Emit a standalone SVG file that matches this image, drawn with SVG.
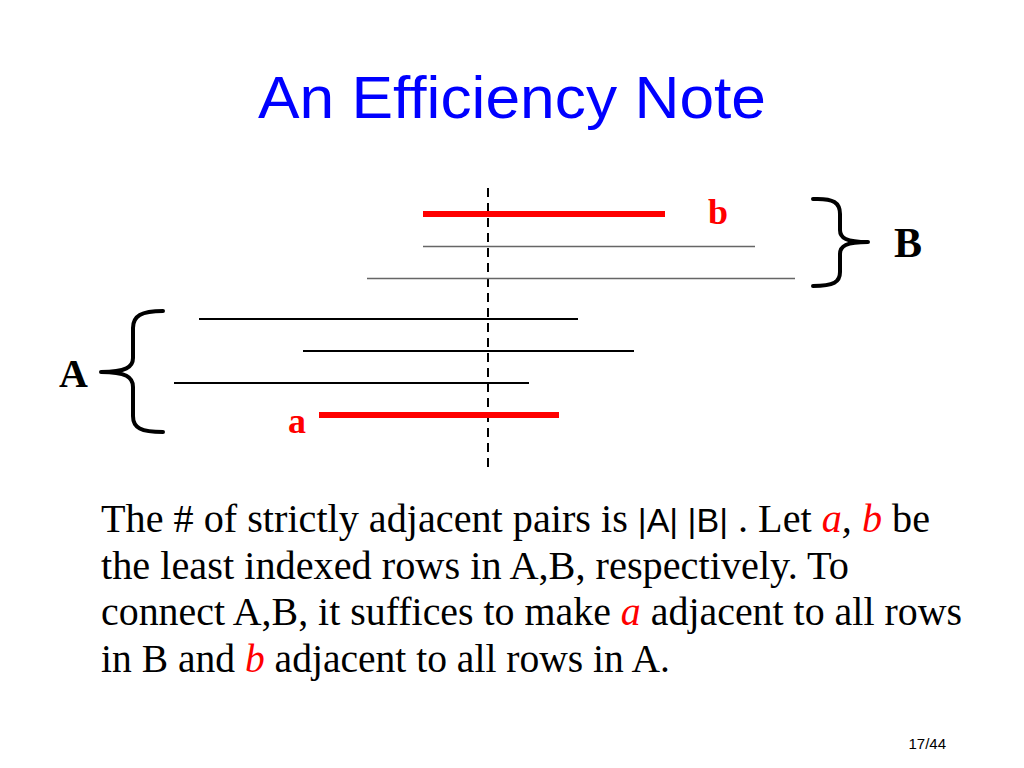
<svg xmlns="http://www.w3.org/2000/svg" width="1024" height="768" viewBox="0 0 1024 768">
<style>
.title{font-family:"Liberation Sans",Arial,sans-serif;font-size:60px;fill:#0000FF}
.body{font-family:"Liberation Serif","Times New Roman",serif;font-size:39px;fill:#000}
.lbl{font-family:"Liberation Serif","Times New Roman",serif;font-weight:bold}
.red{fill:#FF0000}
.it{font-style:italic}
.bar{font-family:"Liberation Sans",Arial,sans-serif;font-size:33px}
.brace{fill:none;stroke:#000;stroke-width:4;stroke-linecap:round;stroke-linejoin:round}
.row{stroke:#000;stroke-width:2.2}
.grey{stroke:#666;stroke-width:1.4}
.redrow{stroke:#FF0000;stroke-width:6}
.pg{font-family:"Liberation Sans",Arial,sans-serif;font-size:15px;fill:#000}
</style>
<rect width="1024" height="768" fill="#fff"/>
<g id="title">
<text class="title" x="258" y="118" textLength="508" lengthAdjust="spacingAndGlyphs">An Efficiency Note</text>
</g>
<g id="connectors">
<line x1="488" y1="188" x2="488" y2="472" stroke="#000" stroke-width="2" stroke-dasharray="9,6"/>
</g>
<g id="setB">
<line class="redrow" x1="423" y1="214" x2="665" y2="214"/>
<line class="grey" x1="423" y1="246.5" x2="755" y2="246.5"/>
<line class="grey" x1="367" y1="278.5" x2="795" y2="278.5"/>
<text class="lbl red" x="708" y="224" font-size="36">b</text>
<path class="brace" d="M813,199 C834,198 840,203 840,214 L840,230 C840,238 846,242 868,242 C846,242 840,246 840,254 L840,272 C840,282 834,286 813,286"/>
<text class="lbl" x="894" y="257" font-size="42">B</text>
</g>
<g id="setA">
<line class="row" x1="199" y1="319" x2="578" y2="319"/>
<line class="row" x1="303" y1="351" x2="634" y2="351"/>
<line class="row" x1="174" y1="383" x2="529" y2="383"/>
<line class="redrow" x1="319" y1="415" x2="559" y2="415"/>
<text class="lbl red" x="288" y="433" font-size="36">a</text>
<path class="brace" d="M163,311 C141,311 133,316 133,328 L133,358 C133,367 126,372 101,372 C126,372 133,377 133,387 L133,416 C133,428 141,432 163,432"/>
<text class="lbl" x="59" y="387" font-size="40">A</text>
</g>
<g id="text">
<text class="body" x="101" y="532" textLength="829" lengthAdjust="spacingAndGlyphs">The # of strictly adjacent pairs is <tspan class="bar">|A| |B|</tspan> . Let <tspan class="red it">a</tspan><tspan class="it">,</tspan> <tspan class="red it">b</tspan> be</text>
<text class="body" x="101" y="578.5" textLength="748" lengthAdjust="spacingAndGlyphs">the least indexed rows in A,B, respectively. To</text>
<text class="body" x="101" y="625" textLength="861" lengthAdjust="spacingAndGlyphs">connect A,B, it suffices to make <tspan class="red it">a</tspan> adjacent to all rows</text>
<text class="body" x="101" y="671.5" textLength="569" lengthAdjust="spacingAndGlyphs">in B and <tspan class="red it">b</tspan> adjacent to all rows in A.</text>
</g>
<g id="page">
<text class="pg" x="946" y="749" text-anchor="end">17/44</text>
</g>
</svg>
